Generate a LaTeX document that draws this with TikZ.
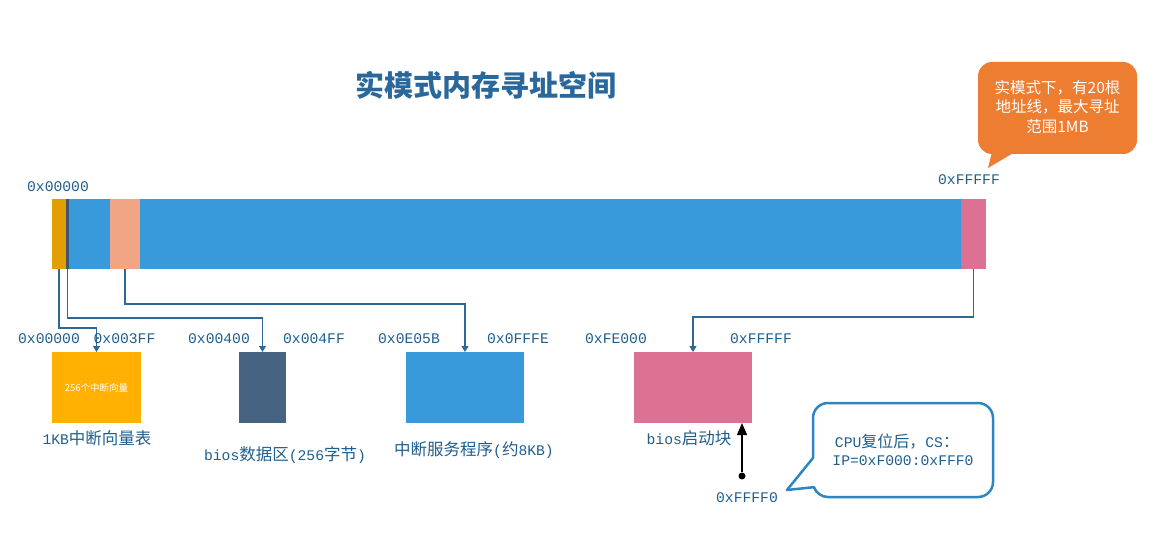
\documentclass[tikz,border=0pt]{standalone}
\usepackage{fontspec}
\setmainfont{Liberation Mono}
\newfontfamily\cjk{Noto Sans CJK SC}
\newfontfamily\mon{Liberation Mono}
\usetikzlibrary{arrows.meta}
\definecolor{cblue}{RGB}{56,153,219}
\definecolor{corange}{RGB}{226,157,0}
\definecolor{cdark}{RGB}{68,84,106}
\definecolor{csalmon}{RGB}{242,165,133}
\definecolor{cpink}{RGB}{221,113,148}
\definecolor{cyellow}{RGB}{255,176,0}
\definecolor{cdarkbox}{RGB}{70,99,130}
\definecolor{ccallout}{RGB}{237,125,49}
\definecolor{cbord}{RGB}{46,134,193}
\definecolor{lnc}{RGB}{44,105,150}
\definecolor{txt}{RGB}{31,95,143}
\definecolor{ctitle}{RGB}{42,104,155}
\newcommand\zh[1]{{\cjk\fontsize{16.5}{19}\selectfont #1}}
\begin{document}
\begin{tikzpicture}[x=1pt,y=-1pt,
  seg/.style={inner sep=0,outer sep=0,minimum height=70,draw=none},
  membox/.style={inner sep=0,outer sep=0,minimum height=71,draw=none},
  hex/.style={text=txt,font=\mon\fontsize{14.7}{17}\selectfont,inner sep=0},
  conn/.style={draw=lnc,line width=1.2pt,-{Triangle[length=6pt,width=7pt]}},
]
\useasboundingbox[fill=white] (0,0) rectangle (1159,556);

% title
\node[font=\cjk\bfseries\fontsize{29}{32}\selectfont,text=ctitle] (title) at (486,85) {实模式内存寻址空间};

% memory bar
\node[seg,fill=cblue,minimum width=934] (bar) at (519,234) {};
\node[seg,fill=corange,minimum width=14] (s1) at (59,234) {};
\node[seg,fill=cdark,minimum width=3] (s2) at (67.5,234) {};
\node[seg,fill=csalmon,minimum width=30] (s3) at (125,234) {};
\node[seg,fill=cpink,minimum width=25] (s4) at (973.5,234) {};
\node[hex] (a0) at (58,187) {0x00000};
\node[hex] (af) at (969,180) {0xFFFFF};

% boxes
\node[membox,fill=cyellow,minimum width=89] (ivt) at (96.5,387.5) {\cjk\fontsize{9.5}{11}\selectfont\color{white}256个中断向量};
\node[membox,fill=cdarkbox,minimum width=47] (bda) at (262.5,387.5) {};
\node[membox,fill=cblue,minimum width=118] (isr) at (465,387.5) {};
\node[membox,fill=cpink,minimum width=118] (boot) at (693,387.5) {};

% connectors
\draw[conn] (s1.south) -- ++(0,59) -| (ivt.north);
\draw[conn] (s2.south) -- ++(0,49) -| (bda.north);
\draw[conn] (s3.south) -- ++(0,35) -| (isr.north);
\draw[conn] (s4.south) -- ++(0,48) -| (boot.north);

% address labels
\node[hex] (h1) at (49,339) {0x00000};
\node[hex] (h2) at (124.5,339) {0x003FF};
\node[hex] (h3) at (219,339) {0x00400};
\node[hex] (h4) at (314,339) {0x004FF};
\node[hex] (h5) at (409,339) {0x0E05B};
\node[hex] (h6) at (518,339) {0x0FFFE};
\node[hex] (h7) at (616,339) {0xFE000};
\node[hex] (h8) at (761,339) {0xFFFFF};

% captions
\node[hex] (c1) at (97,438) {1KB\zh{中断向量表}};
\node[hex] (c2) at (285,455) {bios\zh{数据区}(256\zh{字节})};
\node[hex] (c3) at (474,450) {\zh{中断服务程序}(\zh{约}8KB)};
\node[hex] (c4) at (689,438) {bios\zh{启动块}};

% orange callout
\fill[ccallout,rounded corners=14] (978,62) rectangle (1137,154);
\fill[ccallout] (992,152) -- (988,168) -- (1015,152) -- cycle;
\node[text=white,align=center,font=\cjk\fontsize{15.5}{19.5}\selectfont] (note1) at (1057.5,107) {实模式下，有20根\\地址线，最大寻址\\范围1MB};

% blue callout
\draw[draw=cbord,line width=2.5pt,fill=white,line join=round]
  (828,403) -- (978,403) arc[start angle=270,end angle=360,radius=15]
  -- (993,482) arc[start angle=0,end angle=90,radius=15]
  -- (828,497) arc[start angle=90,end angle=160,radius=15]
  -- (787,490) -- (813,458)
  -- (813,418) arc[start angle=180,end angle=270,radius=15] -- cycle;
\node[hex] (n1) at (897,442) {CPU{\cjk\fontsize{16}{19}\selectfont 复位后，}CS{\cjk\fontsize{16}{19}\selectfont ：}};
\node[hex] (n2) at (903,461) {IP=0xF000:0xFFF0};

% reset arrow
\node[circle,fill=black,inner sep=0,minimum size=7] (dot) at (742,476) {};
\draw[line width=1.3pt,-{Triangle[length=12pt,width=10pt]}] (dot) -- (dot |- boot.south);
\node[hex] (h9) at (747,498) {0xFFFF0};
\end{tikzpicture}
\end{document}
